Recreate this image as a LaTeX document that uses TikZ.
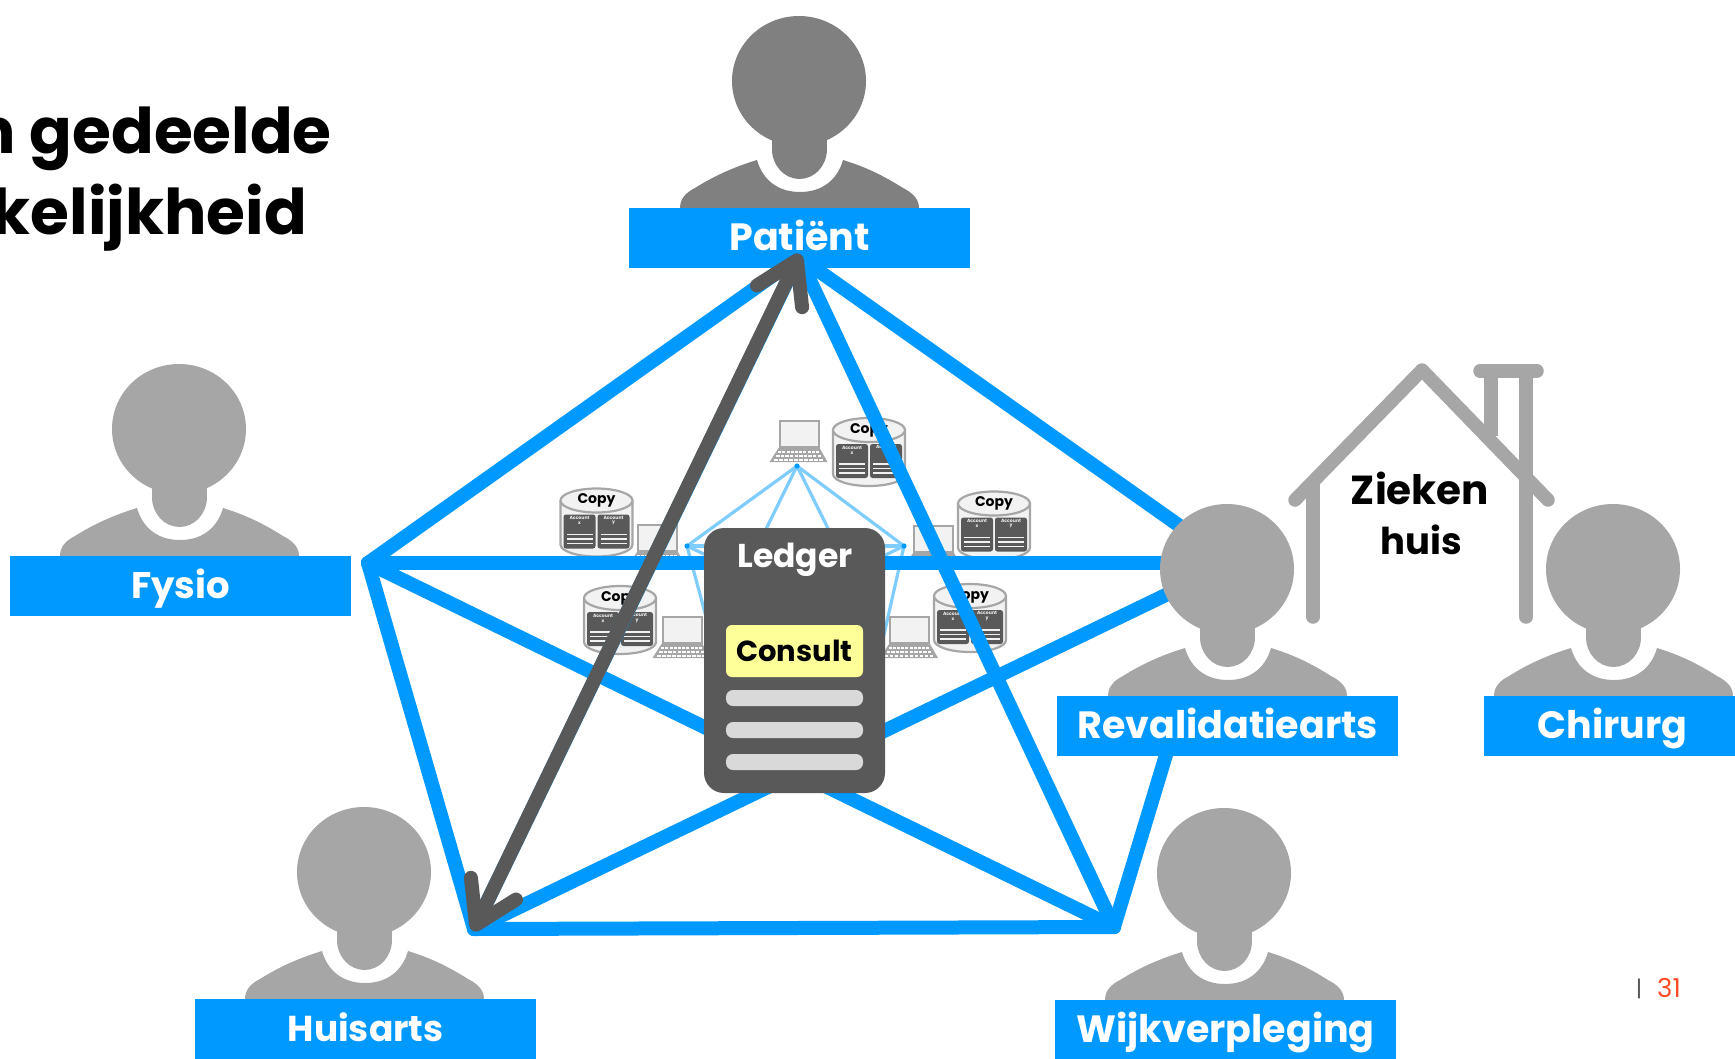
\documentclass[tikz,border=0pt]{standalone}
\usepackage{fontspec}
\setmainfont{Poppins}
\usetikzlibrary{arrows.meta}
\definecolor{netblue}{HTML}{0099FF}
\definecolor{minblue}{HTML}{7FCCFF}
\definecolor{dk}{HTML}{595959}
\definecolor{pg}{HTML}{A6A6A6}
\definecolor{pd}{HTML}{808080}
\definecolor{lt}{HTML}{F2F2F2}
\definecolor{consultc}{HTML}{FFFF99}
\definecolor{barc}{HTML}{D9D9D9}
\definecolor{pagec}{HTML}{FF4B26}
\tikzset{
  x=1pt,y=-1pt,
  banner/.style={fill=netblue,text=white,inner sep=0pt,text height=42pt,text depth=18pt,text width=341pt,align=center,font=\fontsize{38}{38}\selectfont\bfseries},
  netline/.style={netblue,line width=14pt,line cap=round},
  miniline/.style={minblue,line width=3.2pt},
  house/.style={pg,line width=13.5pt,line cap=round},
  bar/.style={fill=barc,rounded corners=7pt},
  pics/person/.style={code={
    \fill[#1] (0,1) ellipse (67 and 65);
    \fill[#1] (-27,40) rectangle (28,70);
    \fill[#1] (-27,69) arc[start angle=180,end angle=0,x radius=27.5,y radius=30] -- cycle;
    \fill[#1] (-119,128) .. controls (-119,118) and (-112,112) .. (-104,108) .. controls (-85,96) and (-65,87) .. (-42,80)
      .. controls (-36,101) and (-20,112) .. (1,112) .. controls (22,112) and (38,101) .. (44,80)
      .. controls (67,87) and (85,96) .. (104,108) .. controls (112,112) and (120,118) .. (120,128) -- cycle;
  }},
  pics/laptop/.style={code={
    \draw[pg,fill=lt,line width=2pt] (-19,-13) rectangle (20,13);
    \fill[pg] (-20,14) -- (21,14) -- (29,28) -- (-29,28) -- cycle;
    \foreach \r/\s in {17/-21,21/-23,25/-25}{
      \foreach \k in {0,...,9}{
        \fill[white] ({\s+\k*(-2*\s/10)+0.6},\r) rectangle ++({-2*\s/10-1.2},2.4);
      }
    }
  }},
  pics/cyl/.style={code={
    \draw[pg,fill=lt,line width=2.2pt] (-36,-22) -- (-36,22) arc[start angle=180,end angle=0,x radius=36,y radius=12] -- (36,-22);
    \draw[pg,fill=lt,line width=2.2pt] (0,-22) ellipse (36 and 12);
    \node[font=\fontsize{14}{14}\selectfont\bfseries,text=black,inner sep=0pt] (cp#1) at (0,-22) {Copy};
    \foreach \o/\l in {-33/x,1/y}{
      \fill[dk,rounded corners=2.5pt] (\o,-8) rectangle ++(32,34);
      \node[font=\fontsize{4.6}{5.4}\selectfont\bfseries,text=lt,inner sep=0pt,align=center] at (\o+16,-2) {Account\\[-0.5pt]\l};
      \foreach \yy in {11,15.5,20}{\fill[lt] (\o+3,\yy) rectangle ++(26,1.8);}
    }
  }}
}
\begin{document}
\begin{tikzpicture}
\useasboundingbox (0,0) rectangle (1735,1058);
\clip (0,0) rectangle (1735,1058);

% title
\node[anchor=base east,inner sep=0pt,font=\fontsize{63}{63}\selectfont\bfseries] (t1) at (332,153) {n gedeelde};
\node[anchor=base east,inner sep=0pt,font=\fontsize{63}{63}\selectfont\bfseries] (t2) at (307,234) {rkelijkheid};

% small ledger network
\coordinate (ma) at (797,466);
\coordinate (mb) at (687,546);
\coordinate (mc) at (904,546);
\coordinate (md) at (712,639);
\coordinate (me) at (883,639);
\foreach \p/\q in {ma/mb,ma/mc,ma/md,ma/me,mb/mc,mb/md,mb/me,mc/md,mc/me,md/me}
  \draw[miniline] (\p) -- (\q);
\foreach \p in {ma,mb,mc}
  \fill[netblue] (\p) circle (2.6);

\pic at (798.5,434) {laptop};
\pic at (657,538) {laptop};
\pic at (933,539) {laptop};
\pic at (681.5,630) {laptop};
\pic at (909,630) {laptop};
\pic at (869,452) {cyl=a};
\pic at (596.5,522.5) {cyl=b};
\pic at (994,525.5) {cyl=c};
\pic at (620,620) {cyl=d};
\pic at (970,618) {cyl=e};

% pentagon vertices
\coordinate (vP) at (799,257);
\coordinate (vF) at (368,563);
\coordinate (vH) at (474,929);
\coordinate (vW) at (1114,927);
\coordinate (vR) at (1232,563);
\coordinate (vRb) at (1172,735);
\foreach \p/\q in {vP/vF,vP/vR,vP/vH,vP/vW,vF/vR,vF/vH,vF/vW,vH/vR,vH/vW,vRb/vW}
  \draw[netline] (\p) -- (\q);

% house
\coordinate (h1) at (1295,500);
\coordinate (h2) at (1422,370);
\coordinate (h3) at (1548,500);
\coordinate (w1a) at (1313,484);
\coordinate (w1b) at (1313,617);
\coordinate (w2a) at (1526,371);
\coordinate (w2b) at (1526,617);
\coordinate (c1) at (1491,371);
\coordinate (c2) at (1491,436);
\coordinate (c3) at (1480,371);
\coordinate (c4) at (1537,371);
\draw[house,line join=round] (h1) -- (h2) -- (h3);
\draw[house] (w1a) -- (w1b);
\draw[house] (w2a) -- (w2b);
\draw[house,line cap=butt] (c1) -- (c2);
\draw[house] (c3) -- (c4);
\node[inner sep=0pt,font=\fontsize{40.5}{40.5}\selectfont\bfseries] (zk) at (1420,488) {Zieken};
\node[inner sep=0pt,font=\fontsize{37}{37}\selectfont\bfseries] (hs) at (1421,540) {huis};

% people
\pic at (799,80) {person=pd};
\pic at (179,428) {person=pg};
\pic at (364,871) {person=pg};
\pic at (1227,568) {person=pg};
\pic at (1613,568) {person=pg};
\pic at (1224,872) {person=pg};
\node[banner,anchor=north west] (bP) at (629,208) {Patiënt};
\node[banner,anchor=north west,font=\fontsize{37}{37}\selectfont\bfseries] (bF) at (10,556) {Fysio};
\node[banner,anchor=north west,font=\fontsize{36}{36}\selectfont\bfseries] (bH) at (195,999) {Huisarts};
\node[banner,anchor=north west] (bR) at (1057,696) {Revalidatiearts};
\node[banner,anchor=north west,text width=257pt] (bC) at (1484,696) {Chirurg};
\node[banner,anchor=north west] (bW) at (1055,1000) {Wijkverpleging};

% ledger
\node[fill=dk,rounded corners=20pt,minimum width=181pt,minimum height=265pt,inner sep=0pt] (ledger) at (794.5,660.5) {};
\node[text=white,inner sep=0pt,font=\fontsize{33}{33}\selectfont\bfseries] (lt) at (795,560) {Ledger};
\node[fill=consultc,rounded corners=6pt,minimum width=137pt,minimum height=52pt,inner sep=0pt,font=\fontsize{29}{29}\selectfont\bfseries] (cons) at (794.5,651) {Consult};
\fill[bar] (726,690) rectangle (863,706);
\fill[bar] (726,722) rectangle (863,738);
\fill[bar] (726,754) rectangle (863,770);

% arrow
\coordinate (aT) at (800,254);
\coordinate (aB) at (473,931);
\draw[dk,line width=14pt,line cap=round,{Straight Barb[length=40pt,width=50pt,round]}-{Straight Barb[length=40pt,width=50pt,round]}] (aB) -- (aT);

% page number
\node[inner sep=0pt,text=dk,font=\fontsize{22}{22}\selectfont] (pb) at (1639,989) {|};
\node[inner sep=0pt,text=pagec,font=\fontsize{26}{26}\selectfont] (pn) at (1669,988) {31};
\end{tikzpicture}
\end{document}
